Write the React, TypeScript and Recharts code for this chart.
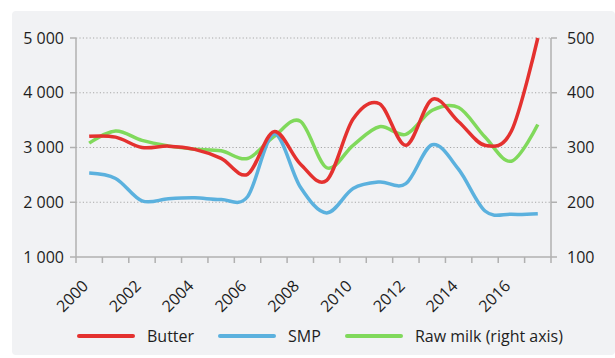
import { LineChart, Line, XAxis, YAxis, CartesianGrid } from "recharts";

const years = [
  2000, 2001, 2002, 2003, 2004, 2005, 2006, 2007, 2008, 2009, 2010, 2011,
  2012, 2013, 2014, 2015, 2016, 2017,
];
const butter = [
  3205, 3190, 3000, 3025, 2965, 2800, 2510, 3290, 2700, 2400, 3520, 3800,
  3040, 3880, 3470, 3040, 3300, 5000,
];
const smp = [
  2535, 2435, 2025, 2065, 2080, 2050, 2100, 3250, 2280, 1805, 2250, 2370,
  2340, 3050, 2600, 1840, 1780, 1790,
];
const rawMilk = [
  308, 330, 313, 303, 297, 294, 280, 320, 348, 263, 304, 338, 324, 368, 373,
  319, 275, 342,
];
const leftTicks = [1000, 2000, 3000, 4000, 5000];
const rightTicks = [100, 200, 300, 400, 500];

const data = years.map((year, i) => ({
  year,
  butter: butter[i],
  smp: smp[i],
  rawMilk: rawMilk[i],
}));

// tick marks sit between years, labels every second year
const boundaries = [...years.map((y) => y - 0.5), years[years.length - 1] + 0.5];

const FONT = "'Open Sans', sans-serif";
const TEXT = "#1e1e1e";
const AXIS = "#b0b0b0";
const RED = "#e4312f";
const BLUE = "#5bb1de";
const GREEN = "#80d95b";

// Catmull-Rom style smoothing (like Excel's smoothed lines)
function smoothCurve(context: any) {
  let x0 = NaN, y0 = NaN, x1 = NaN, y1 = NaN, x2 = NaN, y2 = NaN;
  let pt = 0;
  let line = NaN;
  const k = 1 / 6;
  const seg = (x: number, y: number) => {
    context.bezierCurveTo(
      x1 + k * (x2 - x0),
      y1 + k * (y2 - y0),
      x2 + k * (x1 - x),
      y2 + k * (y1 - y),
      x2,
      y2
    );
  };
  return {
    areaStart() {
      line = 0;
    },
    areaEnd() {
      line = NaN;
    },
    lineStart() {
      x0 = x1 = x2 = y0 = y1 = y2 = NaN;
      pt = 0;
    },
    lineEnd() {
      if (pt === 2) context.lineTo(x2, y2);
      else if (pt === 3) seg(x1, y1);
      if (line || (line !== 0 && pt === 1)) context.closePath();
      line = 1 - line;
    },
    point(x: number, y: number) {
      x = +x;
      y = +y;
      if (pt === 0) {
        pt = 1;
        line ? context.lineTo(x, y) : context.moveTo(x, y);
      } else if (pt === 1) {
        pt = 2;
        x1 = x;
        y1 = y;
      } else {
        if (pt === 2) pt = 3;
        seg(x, y);
      }
      x0 = x1; x1 = x2; x2 = x;
      y0 = y1; y1 = y2; y2 = y;
    },
  };
}

const HALF_STEP = 475 / 18 / 2;

const YearTick = (props: any) => {
  const { x, y, payload } = props;
  const year = payload.value + 0.5;
  if (year % 2 !== 0 || year > 2016) return null;
  const ax = x + HALF_STEP;
  const ay = y + 22;
  return (
    <text
      x={ax}
      y={ay}
      textAnchor="end"
      fill={TEXT}
      fontSize={16}
      fontFamily={FONT}
      transform={`rotate(-45, ${ax}, ${ay})`}
    >
      {year}
    </text>
  );
};

const fmtThousands = (v: number) =>
  v >= 1000 ? `${Math.floor(v / 1000)}\u00a0${String(v % 1000).padStart(3, "0")}` : `${v}`;

const legendItems = [
  { label: "Butter", color: RED },
  { label: "SMP", color: BLUE },
  { label: "Raw milk (right axis)", color: GREEN },
];

export default function App() {
  return (
    <div
      style={{
        position: "absolute",
        left: 0,
        top: 0,
        width: 615,
        height: 358,
        background: "#fff",
        fontFamily: FONT,
      }}
    >
      <div
        style={{
          position: "absolute",
          left: 12,
          top: 11,
          width: 603,
          height: 344,
          background: "#f1f2f4",
          borderRadius: 4,
        }}
      />
      <div style={{ position: "absolute", left: 0, top: 0 }}>
        <LineChart
          width={615}
          height={358}
          data={data}
          margin={{ top: 38, right: 0, left: 0, bottom: 0 }}
        >
          <CartesianGrid
            yAxisId="left"
            vertical={false}
            stroke="#a8a8a8"
            strokeDasharray="1.2 2.2"
            horizontalValues={[2000, 3000, 4000, 5000]}
          />
          <XAxis
            dataKey="year"
            type="number"
            domain={[1999.5, 2017.5]}
            ticks={boundaries}
            interval={0}
            height={101}
            tickSize={6}
            tickMargin={2}
            axisLine={{ stroke: AXIS, strokeWidth: 1.5 }}
            tickLine={{ stroke: AXIS, strokeWidth: 1.5 }}
            tick={<YearTick />}
          />
          <YAxis
            yAxisId="left"
            width={76}
            domain={[1000, 5000]}
            ticks={leftTicks}
            tickFormatter={fmtThousands}
            tickSize={6}
            tickMargin={6}
            axisLine={{ stroke: AXIS, strokeWidth: 1.5 }}
            tickLine={{ stroke: AXIS, strokeWidth: 1.5 }}
            tick={{ fill: TEXT, fontSize: 16, fontFamily: FONT }}
          />
          <YAxis
            yAxisId="right"
            orientation="right"
            width={64}
            domain={[100, 500]}
            ticks={rightTicks}
            tickSize={6}
            tickMargin={10}
            axisLine={{ stroke: AXIS, strokeWidth: 1.5 }}
            tickLine={{ stroke: AXIS, strokeWidth: 1.5 }}
            tick={{ fill: TEXT, fontSize: 16, fontFamily: FONT }}
          />
          <Line
            yAxisId="right"
            dataKey="rawMilk"
            type={smoothCurve as any}
            stroke={GREEN}
            strokeWidth={3.5}
            dot={false}
            isAnimationActive={false}
          />
          <Line
            yAxisId="left"
            dataKey="smp"
            type={smoothCurve as any}
            stroke={BLUE}
            strokeWidth={3.5}
            dot={false}
            isAnimationActive={false}
          />
          <Line
            yAxisId="left"
            dataKey="butter"
            type={smoothCurve as any}
            stroke={RED}
            strokeWidth={3.5}
            dot={false}
            isAnimationActive={false}
          />
        </LineChart>
      </div>
      <div
        style={{
          position: "absolute",
          left: 77,
          top: 325,
          display: "flex",
          alignItems: "center",
          fontSize: 16,
          color: TEXT,
          whiteSpace: "nowrap",
        }}
      >
        {legendItems.map((item, i) => (
          <div
            key={item.label}
            style={{
              display: "flex",
              alignItems: "center",
              marginRight: i < legendItems.length - 1 ? 24 : 0,
            }}
          >
            <span
              style={{
                display: "inline-block",
                width: 58,
                height: 4,
                borderRadius: 2,
                background: item.color,
                marginRight: 12,
              }}
            />
            <span>{item.label}</span>
          </div>
        ))}
      </div>
    </div>
  );
}
